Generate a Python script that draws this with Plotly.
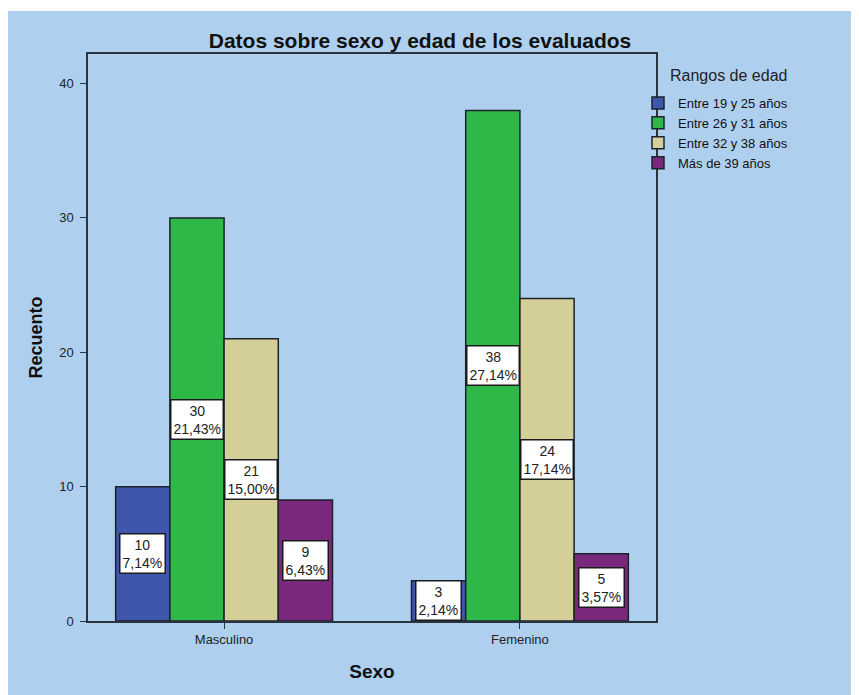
import plotly.graph_objects as go

# ---- data ----
categories = ["Masculino", "Femenino"]
series_names = ["Entre 19 y 25 años", "Entre 26 y 31 años", "Entre 32 y 38 años", "Más de 39 años"]
counts_19_25 = [10, 3]
counts_26_31 = [30, 38]
counts_32_38 = [21, 24]
counts_39_mas = [9, 5]
series_values = [counts_19_25, counts_26_31, counts_32_38, counts_39_mas]
colors = ["#3E56AB", "#2EB848", "#D4CE98", "#7A287C"]
y_ticks = [0, 10, 20, 30, 40]

total = sum(sum(v) for v in series_values)

FONT = "Liberation Sans, Arial, sans-serif"
W, H = 859, 695
L, R, T, B = 80, 648, 46, 613   # plot-area edges in figure pixels
bargap = 0.267
n_series = len(series_names)
bar_w = (1 - bargap) / n_series

fig = go.Figure()
xs = list(range(len(categories)))
for name, vals, col in zip(series_names, series_values, colors):
    fig.add_trace(go.Bar(
        x=xs, y=vals, name=name,
        marker=dict(color=col, line=dict(color="#1c222c", width=1.5)),
        hoverinfo="skip",
    ))

pw, ph = R - L, B - T
def px2x(px):
    return (px - L) / pw
def py2y(py):
    return (B - py) / ph

annotations = []
for si, vals in enumerate(series_values):
    off = (si - (n_series - 1) / 2) * bar_w
    for ci, v in enumerate(vals):
        pct = f"{v / total * 100:.2f}".replace(".", ",")
        annotations.append(dict(
            x=xs[ci] + off, y=v / 2, xref="x", yref="y",
            text=f"{v}<br>{pct}%", showarrow=False,
            font=dict(size=14, color="#222222", family=FONT),
            bgcolor="white", bordercolor="#1a1a1a", borderwidth=1.5, borderpad=2,
            align="center",
        ))

# legend title
annotations.append(dict(
    x=px2x(660), y=py2y(67), xref="paper", yref="paper", xanchor="left", yanchor="middle",
    text="Rangos de edad", showarrow=False, font=dict(size=16, color="#222222", family=FONT),
))

shapes = [
    dict(type="rect", xref="paper", yref="paper", x0=px2x(-5), x1=px2x(W + 5), y0=py2y(3), y1=py2y(-5),
         fillcolor="white", line=dict(width=0), layer="below"),
]

bg = "#AED0EE"
fig.update_layout(
    width=W, height=H,
    margin=dict(l=L, r=W - R, t=T, b=H - B, pad=0),
    paper_bgcolor=bg, plot_bgcolor=bg,
    barmode="group", bargap=bargap, bargroupgap=0,
    font=dict(family=FONT, color="#222222", size=13),
    title=dict(text="<b>Datos sobre sexo y edad de los evaluados</b>", x=412 / W, xanchor="center",
               y=1 - 33 / H, yanchor="middle", font=dict(size=21, color="#111111")),
    showlegend=True,
    legend=dict(
        x=px2x(630), xanchor="left", y=py2y(80), yanchor="top",
        font=dict(size=13, color="#111111"), bgcolor="rgba(0,0,0,0)",
        tracegroupgap=0, itemclick=False, itemdoubleclick=False,
    ),
    xaxis=dict(
        tickmode="array", tickvals=xs, ticktext=categories, range=[-0.46, 1.46],
        showline=True, linecolor="#2a3440", linewidth=1.5, mirror=True,
        ticks="outside", ticklen=6, tickcolor="#2a3440", showgrid=False, zeroline=False,
        tickfont=dict(size=13),
        title=dict(text="<b>Sexo</b>", font=dict(size=19, color="#111111"), standoff=18),
    ),
    yaxis=dict(
        range=[0, 42.2], tickmode="array", tickvals=y_ticks,
        showline=True, linecolor="#2a3440", linewidth=1.5, mirror=True,
        ticks="outside", ticklen=6, tickcolor="#2a3440", showgrid=False, zeroline=False,
        tickfont=dict(size=13), ticklabelstandoff=4,
        title=dict(text="<b>Recuento</b>", font=dict(size=18, color="#111111"), standoff=12),
    ),
    annotations=annotations,
    shapes=shapes,
)

fig.write_html("out.html")
